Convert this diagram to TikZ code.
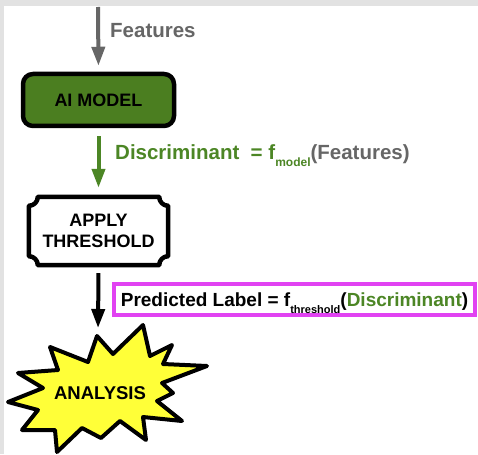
\documentclass[tikz,border=0pt]{standalone}
\usepackage{fontspec}
\setmainfont{Liberation Sans}
\usetikzlibrary{arrows.meta,calc}
\definecolor{bggray}{HTML}{E2E2E2}
\definecolor{arrgray}{HTML}{666666}
\definecolor{boxgreen}{HTML}{4B7E20}
\definecolor{tgreen}{HTML}{4C8625}
\definecolor{magbox}{HTML}{E142F2}
\definecolor{staryellow}{HTML}{FFFF38}
\begin{document}
\begin{tikzpicture}[x=1pt,y=-1pt,
  arr/.style={line width=4pt,-{Triangle[length=19pt,width=13pt]}},
  lbl/.style={font=\fontsize{20.5}{22}\selectfont\bfseries, inner sep=0pt, anchor=base west},
  aibox/.style={draw=black, line width=4.5pt, fill=boxgreen, rounded corners=10pt,
    minimum width=151pt, minimum height=52pt, inner sep=0pt,
    font=\fontsize{18}{21}\selectfont\bfseries},
  thrbox/.style={minimum width=139pt, minimum height=68pt, inner sep=0pt, align=center,
    font=\fontsize{18}{22}\selectfont\bfseries},
  predbox/.style={draw=magbox, line width=4pt, fill=white, minimum width=361pt, minimum height=31pt,
    inner sep=0pt, text height=14pt, text depth=0pt,
    font=\fontsize{19}{21}\selectfont\bfseries}]
\useasboundingbox (0,0) rectangle (478,454);
\fill[bggray] (0,0) rectangle (478,454);
\fill[white] (4,6) rectangle (478,454);

% nodes
\coordinate (in) at (98,7);
\node[aibox] (ai) at (98.5,100) {AI MODEL};
\node[thrbox] (thr) at (98.5,231) {APPLY\\[-1pt]THRESHOLD};
\coordinate (startop) at (98,336);
\node[predbox] (pred) at (294.5,299.5)
  {Predicted Label = f\raisebox{-7pt}{\fontsize{11}{11}\selectfont threshold}(\textcolor{tgreen}{Discriminant})};

% plaque outline of APPLY THRESHOLD
\draw[line width=4.5pt, fill=white, line join=round]
  ($(thr.north west)+(9,0)$) -- ($(thr.north east)+(-9,0)$)
  .. controls ($(thr.north east)+(-9,5)$) and ($(thr.north east)+(-5,9)$) .. ($(thr.north east)+(0,9)$)
  -- ($(thr.south east)+(0,-9)$)
  .. controls ($(thr.south east)+(-5,-9)$) and ($(thr.south east)+(-9,-5)$) .. ($(thr.south east)+(-9,0)$)
  -- ($(thr.south west)+(9,0)$)
  .. controls ($(thr.south west)+(9,-5)$) and ($(thr.south west)+(5,-9)$) .. ($(thr.south west)+(0,-9)$)
  -- ($(thr.north west)+(0,9)$)
  .. controls ($(thr.north west)+(5,9)$) and ($(thr.north west)+(9,5)$) .. cycle;
\node[thrbox] at (thr.center) {APPLY\\[-1pt]THRESHOLD};

% star
\draw[fill=staryellow, line width=4pt, line join=round]
  (97,336) -- (113,354) -- (143,325) -- (150,356) -- (172,345) -- (163,364)
  -- (207,366) -- (162,383) -- (173,393) -- (157,401) -- (182,421) -- (143,417)
  -- (146,440) -- (120,421) -- (101,438) -- (82,428) -- (57,452) -- (55,430)
  -- (22,430) -- (38,410) -- (8,402) -- (43,388) -- (18,373) -- (58,370)
  -- (50,347) -- (88,362) -- cycle;
\node[font=\fontsize{18.5}{21}\selectfont\bfseries, inner sep=0pt] (analysis) at (100,393.5) {ANALYSIS};

% connectors
\draw[arr, arrgray, shorten >=6pt] (in) -- (ai.north);
\draw[arr, tgreen, shorten <=8pt, shorten >=9pt] (ai.south) -- (thr.north);
\draw[arr, black, shorten <=8pt, shorten >=8pt] (thr.south) -- (startop);

% labels
\node[lbl, text=arrgray] (feat) at (110,38) {Features};
\node[lbl, text=tgreen, font=\fontsize{20.5}{22}\selectfont\bfseries] (disc) at (115,160)
  {Discriminant\ \ = f\raisebox{-7pt}{\fontsize{12}{12}\selectfont model}\textcolor{arrgray}{(Features)}};
\end{tikzpicture}
\end{document}
